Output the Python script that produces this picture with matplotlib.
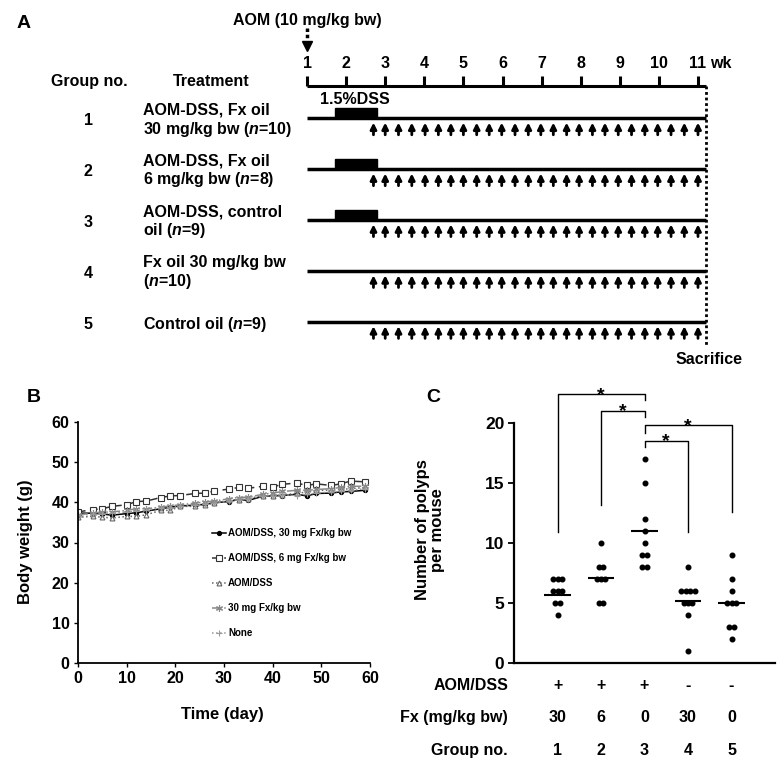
import numpy as np
import matplotlib
matplotlib.use('Agg')
import matplotlib.pyplot as plt
from matplotlib.patches import Rectangle
from collections import Counter

plt.rcParams['font.family'] = 'Liberation Sans'
plt.rcParams['font.weight'] = 'bold'
plt.rcParams['axes.labelweight'] = 'bold'
plt.rcParams['mathtext.fontset'] = 'custom'
plt.rcParams['mathtext.it'] = 'Liberation Sans:italic:bold'
plt.rcParams['mathtext.rm'] = 'Liberation Sans:bold'

# ---------------- data: panel A (schedule) ----------------
weeks = [1, 2, 3, 4, 5, 6, 7, 8, 9, 10, 11]
group_no = [1, 2, 3, 4, 5]
treatments = ["AOM-DSS, Fx oil\n30 mg/kg bw ($n$=10)",
              "AOM-DSS, Fx oil\n6 mg/kg bw ($n$=8)",
              "AOM-DSS, control\noil ($n$=9)",
              "Fx oil 30 mg/kg bw\n($n$=10)",
              "Control oil ($n$=9)"]
dss_groups = [1, 2, 3]
dss_weeks = [1.72, 2.78]
gavage_weeks = [2.70, 3.00, 3.34, 3.68, 4.02, 4.36, 4.68, 5.00, 5.34, 5.66,
                5.98, 6.32, 6.66, 6.98, 7.30, 7.64, 7.96, 8.30, 8.62, 8.96,
                9.30, 9.64, 9.97, 10.31, 10.65, 11.00]
end_week = 11.2

# ---------------- data: panel B (body weight) ----------------
days = [0, 3, 5, 7, 10, 12, 14, 17, 19, 21, 24, 26, 28, 31, 33, 35, 38, 40,
        42, 45, 47, 49, 52, 54, 56, 59]
bw_fx30_aom = [37.3, 37.3, 37.1, 36.8, 37.2, 37.4, 37.8, 38.4, 38.8, 39.1, 39.3, 39.5, 39.9,
               40.2, 40.7, 40.5, 41.5, 41.6, 41.7, 42.0, 41.6, 42.2, 42.3, 42.6, 42.7, 43.0]
bw_fx6_aom = [37.6, 38.2, 38.4, 39.0, 39.4, 40.2, 40.3, 41.2, 41.6, 41.7, 42.2, 42.3, 42.8,
              43.3, 43.7, 43.5, 44.0, 43.8, 44.5, 44.8, 44.2, 44.6, 44.2, 44.6, 45.3, 45.1]
bw_aom = [36.3, 36.5, 36.3, 36.1, 36.5, 36.5, 36.9, 38.0, 38.0, 39.0, 39.0, 39.3, 39.8,
          40.5, 40.7, 40.9, 41.7, 41.5, 41.9, 42.2, 42.6, 43.0, 43.0, 43.2, 43.4, 43.7]
bw_fx30 = [36.9, 37.3, 37.6, 37.6, 38.0, 38.4, 38.4, 38.8, 39.1, 39.4, 39.8, 40.1, 40.3,
           40.9, 41.2, 41.3, 42.0, 42.3, 42.7, 43.0, 43.0, 43.2, 43.4, 43.7, 44.0, 44.0]
bw_none = [36.8, 37.0, 37.2, 37.3, 37.6, 37.8, 38.0, 38.6, 38.7, 39.0, 39.3, 39.5, 39.8,
           40.3, 40.7, 40.9, 41.5, 41.7, 41.9, 41.7, 42.0, 42.3, 42.6, 42.7, 43.0, 43.4]
bw_labels = ["AOM/DSS, 30 mg Fx/kg bw", "AOM/DSS, 6 mg Fx/kg bw", "AOM/DSS",
             "30 mg Fx/kg bw", "None"]

# ---------------- data: panel C (polyps) ----------------
polyps = [[7, 7, 7, 6, 6, 6, 5, 5, 4],
          [10, 8, 8, 7, 7, 7, 5, 5],
          [17, 15, 12, 11, 10, 9, 9, 8, 8],
          [8, 6, 6, 6, 6, 5, 5, 5, 4, 1],
          [9, 7, 6, 5, 5, 5, 3, 3, 2]]
polyp_means = [5.7, 7.1, 11.0, 5.2, 5.0]
aom_dss = ['+', '+', '+', '-', '-']
fx_dose = ['30', '6', '0', '30', '0']
# (group a, group b, bracket top, left leg end, right leg end)
sig_pairs = [(1, 3, 22.4, 10.9, 21.9),
             (2, 3, 21.0, 13.2, 20.5),
             (3, 5, 19.8, 19.2, 12.6),
             (3, 4, 18.5, 18.0, 10.9)]

W, H = 782, 767
fig = plt.figure(figsize=(W / 100, H / 100), dpi=100)

# ================= panel A =================
axA = fig.add_axes([0, 1 - 375 / H, 1, 375 / H])
axA.set_xlim(1 - 307 / 39.1, 1 + 475 / 39.1)
axA.set_ylim(1 + 257 / 50.9, 1 - 118 / 50.9)
axA.axis('off')

axis_row = 0.37
axA.plot([weeks[0], end_week], [axis_row, axis_row], color='k', lw=2.2, solid_capstyle='butt')
axA.vlines(weeks, 0.175, axis_row, color='k', lw=2.2)
for w in weeks:
    axA.text(w, -0.08, str(w), ha='center', va='center', fontsize=11.5)
axA.text(11.31, -0.08, 'wk', ha='left', va='center', fontsize=11.5)

axA.text(1, -0.91, 'AOM (10 mg/kg bw)', ha='center', va='center', fontsize=11.5)
axA.plot([1, 1], [-0.77, -0.48], color='k', lw=2.5, ls=(0, (1, 0.8)))
axA.plot([1], [-0.41], marker='v', color='k', ms=7)

axA.text(-4.58, 0.29, 'Group no.', ha='center', va='center', fontsize=11.5)
axA.text(-1.45, 0.29, 'Treatment', ha='center', va='center', fontsize=11.5)
axA.text(2.23, 0.64, '1.5%DSS', ha='center', va='center', fontsize=11.5)

for g, label in zip(group_no, treatments):
    axA.text(-4.6, g + 0.05, str(g), ha='center', va='center', fontsize=11.5)
    axA.text(-3.19, g + 0.05, label, ha='left', va='center', fontsize=11.5, linespacing=1.15)
    axA.plot([weeks[0], end_week], [g, g], color='k', lw=2.5, solid_capstyle='butt')
    if g in dss_groups:
        axA.add_patch(Rectangle((dss_weeks[0], g - 0.2), dss_weeks[1] - dss_weeks[0], 0.2,
                                color='k'))
    for t in gavage_weeks:
        axA.annotate('', xy=(t, g + 0.09), xytext=(t, g + 0.33),
                     arrowprops=dict(arrowstyle='-|>', color='k', lw=2,
                                     mutation_scale=9, shrinkA=0, shrinkB=0))

axA.plot([end_week, end_week], [axis_row, 5.49], color='k', lw=2, ls=(0, (1, 1)))
axA.text(11.28, 5.75, 'Sacrifice', ha='center', va='center', fontsize=11.5)

# ================= panel B =================
axB = fig.add_axes([78 / W, 104 / H, 292 / W, 241 / H])
styles = [dict(color='k', ls='-', marker='o', ms=3, mfc='k'),
          dict(color='#333333', ls=(0, (5, 3)), marker='s', ms=4, mfc='white'),
          dict(color='#666666', ls=':', marker='^', ms=3.5, mfc='white'),
          dict(color='#888888', ls='-.', marker=(6, 2, 0), ms=5),
          dict(color='#9a9a9a', ls=':', marker='+', ms=5)]
for series, lab, st in zip([bw_fx30_aom, bw_fx6_aom, bw_aom, bw_fx30, bw_none], bw_labels, styles):
    axB.plot(days, series, lw=1.1, label=lab, mew=0.8, **st)
axB.set_xlim(0, 60)
axB.set_ylim(0, 60)
axB.set_xticks([0, 10, 20, 30, 40, 50, 60])
axB.set_yticks([0, 10, 20, 30, 40, 50, 60])
for s in ['top', 'right']:
    axB.spines[s].set_visible(False)
for s in ['left', 'bottom']:
    axB.spines[s].set_linewidth(1.3)
axB.tick_params(direction='out', length=3, width=1, labelsize=11.5, pad=3)
for t in axB.get_xticklabels() + axB.get_yticklabels():
    t.set_fontweight('bold')
axB.set_xlabel('Time (day)', fontsize=12)
axB.set_ylabel('Body weight (g)', fontsize=12)
axB.xaxis.set_label_coords(0.495, -0.181)
axB.yaxis.set_label_coords(-0.154, 0.503)
leg = axB.legend(loc='upper left', bbox_to_anchor=(0.46, 0.56), frameon=False, fontsize=7,
                 handlelength=1.4, handletextpad=0.2, labelspacing=1.55,
                 borderpad=0, borderaxespad=0)

# ================= panel C =================
axC = fig.add_axes([514 / W, 104 / H, 261 / W, 240 / H])
for g, vals in zip(group_no, polyps):
    counts = Counter(vals)
    for v, k in counts.items():
        offs = [(i - (k - 1) / 2) * 0.1 for i in range(k)]
        axC.plot([g + o for o in offs], [v] * k, 'o', color='k', ms=3.3)
axC.hlines(polyp_means, [g - 0.3 for g in group_no], [g + 0.3 for g in group_no],
           color='k', lw=1.5)
for a, b, top, ya, yb in sig_pairs:
    axC.plot([a, a, b, b], [ya, top, top, yb], color='k', lw=1, clip_on=False)
    axC.text((a + b) / 2, top - 0.45, '*', ha='center', va='baseline', fontsize=14)

axC.set_xlim(0, 6)
axC.set_ylim(0, 20)
axC.set_xticks([])
axC.set_yticks([0, 5, 10, 15, 20])
for s in ['top', 'right']:
    axC.spines[s].set_visible(False)
for s in ['left', 'bottom']:
    axC.spines[s].set_linewidth(1.6)
axC.tick_params(axis='y', direction='out', length=4, width=1.3, labelsize=12.5, pad=3)
for t in axC.get_yticklabels():
    t.set_fontweight('bold')
axC.set_ylabel('Number of polyps\nper mouse', fontsize=12, linespacing=1.0)
axC.yaxis.set_label_coords(-0.264, 0.554)

row_y = [-0.092, -0.229, -0.363]
row_names = ['AOM/DSS', 'Fx (mg/kg bw)', 'Group no.']
row_vals = [aom_dss, fx_dose, [str(g) for g in group_no]]
tr = axC.get_xaxis_transform()
for y, name, vals in zip(row_y, row_names, row_vals):
    axC.text(-0.023, y, name, transform=axC.transAxes, ha='right', va='center', fontsize=11.5)
    for g, v in zip(group_no, vals):
        axC.text(g, y, v, transform=tr, ha='center', va='center', fontsize=11.5)

# panel letters
fig.text(24 / W, 1 - 23 / H, 'A', ha='center', va='center', fontsize=14)
fig.text(34 / W, 1 - 397 / H, 'B', ha='center', va='center', fontsize=14)
fig.text(433 / W, 1 - 397 / H, 'C', ha='center', va='center', fontsize=14)

fig.savefig('out.png', dpi=100)
